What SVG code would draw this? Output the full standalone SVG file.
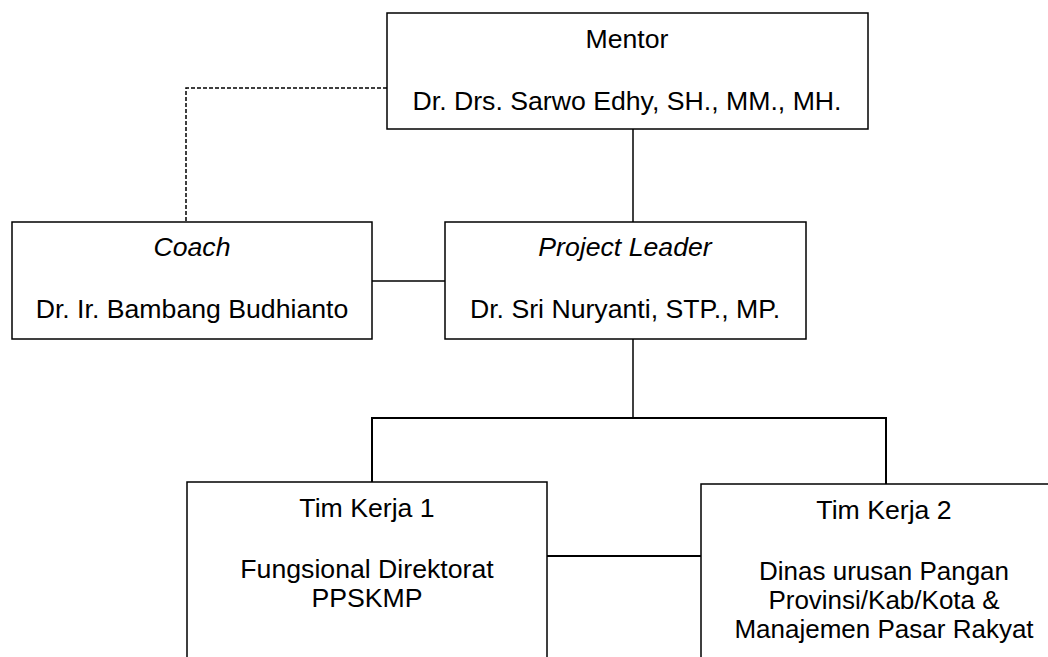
<svg xmlns="http://www.w3.org/2000/svg" width="1048" height="657" viewBox="0 0 1048 657">
<style>
.box{fill:#fff;stroke:#000;stroke-width:1.5}
.ln{fill:none;stroke:#000;stroke-width:1.5}
.bus{fill:none;stroke:#000;stroke-width:2}
.dash{fill:none;stroke:#000;stroke-width:1.5;stroke-dasharray:4 2}
text{font-family:"Liberation Sans",Arial,sans-serif;font-size:26.67px;fill:#000;text-anchor:middle}
.it{font-style:italic}
.sm{font-size:26px}
</style>
<rect width="1048" height="657" fill="#fff"/>
<g id="connectors">
<path class="dash" d="M387 88 H186 V222"/>
<path class="ln" d="M633 129 V222"/>
<path class="ln" d="M372 281 H445"/>
<path class="ln" d="M633 339 V418"/>
<path class="bus" d="M372 482 V418 H886 V484"/>
<path class="bus" d="M547 556 H701"/>
</g>
<g id="mentor">
<rect class="box" x="387" y="13" width="481" height="116"/>
<text x="627" y="48">Mentor</text>
<text x="627" y="110">Dr. Drs. Sarwo Edhy, SH., MM., MH.</text>
</g>
<g id="coach">
<rect class="box" x="12" y="222" width="360" height="117"/>
<text class="it" x="192" y="256">Coach</text>
<text x="192" y="318">Dr. Ir. Bambang Budhianto</text>
</g>
<g id="project-leader">
<rect class="box" x="445" y="222" width="361" height="117"/>
<text class="it" x="625" y="256">Project Leader</text>
<text x="625" y="318">Dr. Sri Nuryanti, STP., MP.</text>
</g>
<g id="tim-kerja-1">
<rect class="box" x="187" y="482" width="360" height="200"/>
<text x="367" y="517">Tim Kerja 1</text>
<text x="367" y="578">Fungsional Direktorat</text>
<text x="367" y="607">PPSKMP</text>
</g>
<g id="tim-kerja-2">
<rect class="box" x="701" y="484" width="370" height="200"/>
<text x="884" y="519">Tim Kerja 2</text>
<text class="sm" x="884" y="580">Dinas urusan Pangan</text>
<text class="sm" x="884" y="609">Provinsi/Kab/Kota &amp;</text>
<text class="sm" x="884" y="638">Manajemen Pasar Rakyat</text>
</g>
</svg>
